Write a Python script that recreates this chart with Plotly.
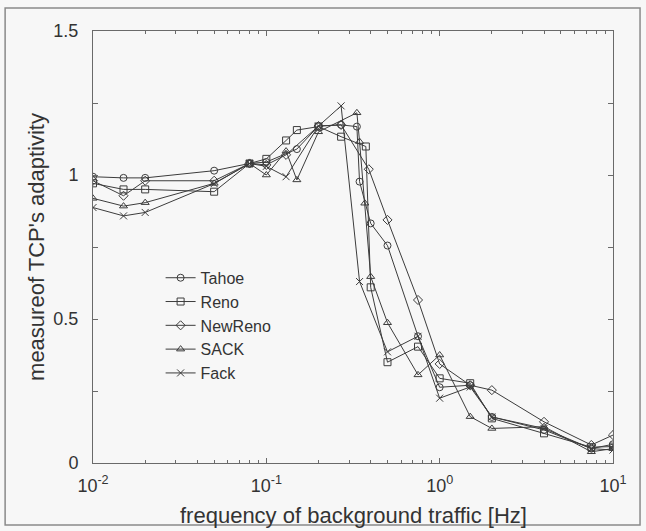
import plotly.graph_objects as go

# ---- data ----
tahoe_x = [0.01, 0.015, 0.02, 0.05, 0.08, 0.1, 0.15, 0.2, 0.27, 0.333, 0.345, 0.4, 0.5, 0.75, 1, 1.5, 2, 4, 7.5, 10]
tahoe_y = [0.994, 0.99, 0.99, 1.015, 1.04, 1.045, 1.09, 1.17, 1.174, 1.168, 0.977, 0.832, 0.755, 0.44, 0.263, 0.27, 0.16, 0.115, 0.05, 0.065]

reno_x = [0.01, 0.015, 0.02, 0.05, 0.08, 0.1, 0.13, 0.15, 0.2, 0.27, 0.375, 0.4, 0.5, 0.75, 1, 1.5, 2, 4, 7.5, 10]
reno_y = [0.971, 0.95, 0.95, 0.942, 1.04, 1.056, 1.12, 1.156, 1.168, 1.133, 1.099, 0.61, 0.35, 0.404, 0.294, 0.277, 0.155, 0.103, 0.055, 0.057]

newreno_x = [0.01, 0.015, 0.02, 0.05, 0.08, 0.1, 0.13, 0.2, 0.27, 0.39, 0.5, 0.75, 1, 1.5, 2, 4, 7.5, 10]
newreno_y = [0.98, 0.928, 0.98, 0.98, 1.04, 1.035, 1.07, 1.17, 1.174, 1.02, 0.844, 0.566, 0.344, 0.27, 0.253, 0.143, 0.0625, 0.097]

sack_x = [0.01, 0.015, 0.02, 0.05, 0.08, 0.1, 0.13, 0.15, 0.2, 0.333, 0.345, 0.37, 0.4, 0.5, 0.75, 1, 1.5, 2, 4, 7.5, 10]
sack_y = [0.919, 0.892, 0.904, 0.971, 1.04, 1.0, 1.083, 0.983, 1.15, 1.216, 1.116, 0.902, 0.647, 0.487, 0.306, 0.375, 0.161, 0.12, 0.126, 0.039, 0.05]

fack_x = [0.01, 0.015, 0.02, 0.05, 0.08, 0.1, 0.13, 0.2, 0.27, 0.345, 0.5, 0.75, 1, 1.5, 2, 4, 7.5, 10]
fack_y = [0.887, 0.858, 0.87, 0.97, 1.04, 1.03, 0.994, 1.17, 1.24, 0.63, 0.386, 0.44, 0.225, 0.264, 0.16, 0.12, 0.05, 0.045]

series_names = ["Tahoe", "Reno", "NewReno", "SACK", "Fack"]
series_symbols = ["circle-open", "square-open", "diamond-open", "triangle-up-open", "x-thin-open"]

x_tickvals = [0.01, 0.1, 1, 10]
x_ticktext = ["10<sup>-2</sup>", "10<sup>-1</sup>", "10<sup>0</sup>", "10<sup>1</sup>"]
x_minor = [m * d for d in (0.01, 0.1, 1) for m in range(2, 10)]
y_tickvals = [0, 0.25, 0.5, 0.75, 1, 1.25, 1.5]
y_ticktext = ["0", "", "0.5", "", "1", "", "1.5"]

x_title = "frequency of background traffic [Hz]"
y_title = "measureof TCP's adaptivity"

xs = [tahoe_x, reno_x, newreno_x, sack_x, fack_x]
ys = [tahoe_y, reno_y, newreno_y, sack_y, fack_y]

INK = "#3c3c3c"
AX = "#6a6a6a"
BG = "#f7f7f7"
FONT = "Liberation Sans"

fig = go.Figure()
for name, sym, x, y in zip(series_names, series_symbols, xs, ys):
    fig.add_trace(go.Scatter(
        x=x, y=y, name=name, mode="lines+markers",
        line=dict(color=INK, width=1),
        marker=dict(symbol=sym, size=7, color=INK, line=dict(color=INK, width=1)),
    ))

axis_common = dict(
    showline=True, linecolor=AX, linewidth=1, mirror="allticks",
    ticks="inside", ticklen=5, tickcolor=AX, tickwidth=1,
    showgrid=False, zeroline=False,
    tickfont=dict(family=FONT, size=18, color="#333"),
)

fig.update_xaxes(
    type="log", range=[-2, 1],
    tickvals=x_tickvals, ticktext=x_ticktext,
    ticklabelstandoff=6,
    minor=dict(tickvals=x_minor, ticks="inside", ticklen=3, tickcolor=AX, showgrid=False),
    **axis_common,
)
fig.update_yaxes(
    range=[0, 1.5], tickvals=y_tickvals, ticktext=y_ticktext,
    ticklabelstandoff=10,
    title=dict(text=y_title, font=dict(family=FONT, size=22, color="#333"), standoff=2),
    **axis_common,
)

fig.add_annotation(
    text=x_title, xref="paper", yref="paper", x=0.5, y=-0.121,
    xanchor="center", yanchor="middle", showarrow=False,
    font=dict(family=FONT, size=22, color="#333"),
)

fig.update_layout(
    width=646, height=531,
    margin=dict(l=93, r=33, t=31, b=68),
    paper_bgcolor=BG, plot_bgcolor=BG,
    font=dict(family=FONT, color="#333"),
    legend=dict(
        x=0.13, y=0.468, xanchor="left", yanchor="top",
        bgcolor="rgba(0,0,0,0)", borderwidth=0,
        font=dict(family=FONT, size=16, color="#333"),
        tracegroupgap=0, itemwidth=30,
    ),
    shapes=[dict(
        type="rect", xref="paper", yref="paper",
        x0=-0.169, x1=1.052, y0=-0.1435, y1=1.053,
        line=dict(color="#8a8a8a", width=1.5), fillcolor="rgba(0,0,0,0)",
    )],
)

fig.write_html("out.html")
